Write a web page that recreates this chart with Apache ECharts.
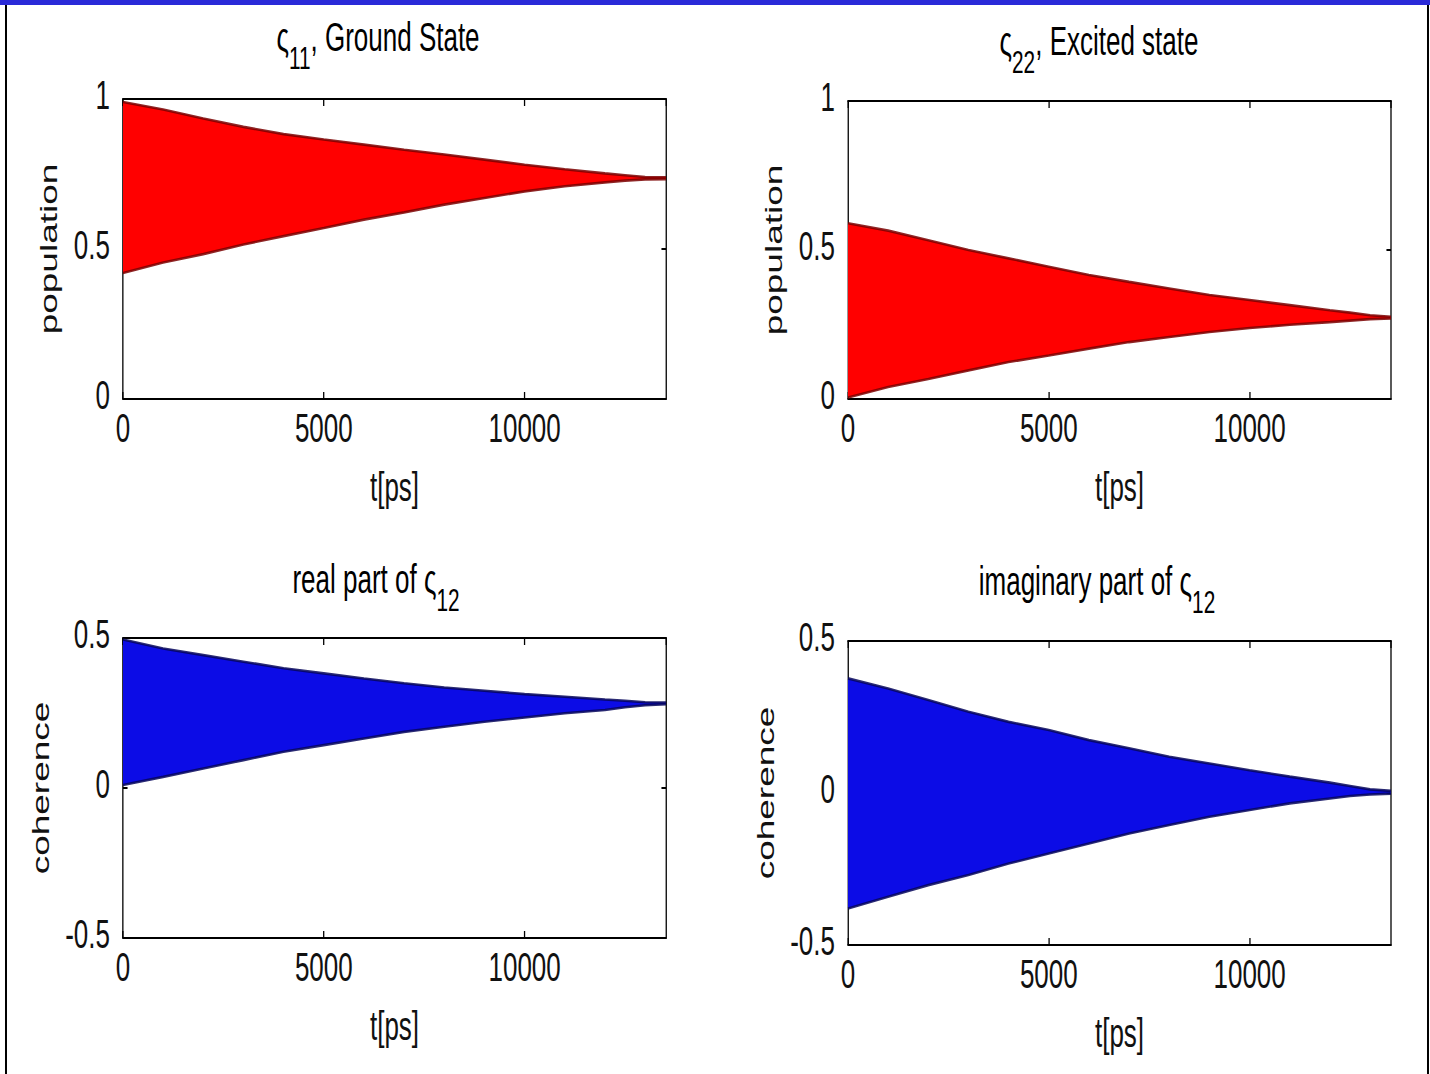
<!DOCTYPE html>
<html>
<head>
<meta charset="utf-8">
<title>Density matrix elements</title>
<script src="https://cdn.jsdelivr.net/npm/echarts@6/dist/echarts.min.js"></script>
<style>
  html, body { margin: 0; padding: 0; background: #ffffff; overflow: hidden; width: 1430px; height: 1074px; }
  /* the figure is laid out wide and squeezed horizontally, giving the tall narrow lettering */
  #chart { width: 2200px; height: 1074px; transform: scaleX(0.65); transform-origin: 0 0; }
</style>
</head>
<body>
<div id="chart"></div>
<script>
// Sample times (ps) at which the oscillation envelopes are listed
const timePs = [0, 1000, 2000, 3000, 4000, 5000, 6000, 7000, 8000, 9000, 10000, 11000, 12000, 12500, 13000, 13520];
const timeMax = 13520;

// rho_11 (ground state population): upper / lower envelope of the fast oscillation
const rho11Upper = [0.99, 0.965, 0.935, 0.907, 0.883, 0.865, 0.848, 0.831, 0.815, 0.798, 0.781, 0.766, 0.752, 0.746, 0.740, 0.739];
const rho11Lower = [0.42, 0.455, 0.483, 0.515, 0.543, 0.570, 0.598, 0.622, 0.648, 0.670, 0.692, 0.709, 0.722, 0.728, 0.732, 0.733];

// rho_22 (excited state population)
const rho22Upper = [0.59, 0.565, 0.533, 0.500, 0.472, 0.444, 0.416, 0.393, 0.371, 0.349, 0.332, 0.315, 0.298, 0.290, 0.281, 0.276];
const rho22Lower = [0.005, 0.040, 0.067, 0.096, 0.124, 0.146, 0.169, 0.191, 0.208, 0.225, 0.238, 0.249, 0.258, 0.263, 0.268, 0.270];

// Re(rho_12) coherence
const reRho12Upper = [0.495, 0.465, 0.443, 0.421, 0.399, 0.382, 0.365, 0.349, 0.335, 0.324, 0.313, 0.304, 0.295, 0.291, 0.286, 0.285];
const reRho12Lower = [0.010, 0.037, 0.065, 0.093, 0.121, 0.143, 0.165, 0.187, 0.204, 0.221, 0.235, 0.249, 0.260, 0.269, 0.276, 0.279];

// Im(rho_12) coherence
const imRho12Upper = [0.377, 0.344, 0.306, 0.267, 0.234, 0.207, 0.174, 0.147, 0.119, 0.097, 0.075, 0.054, 0.034, 0.023, 0.012, 0.007];
const imRho12Lower = [-0.380, -0.341, -0.303, -0.270, -0.232, -0.199, -0.166, -0.133, -0.105, -0.078, -0.056, -0.034, -0.018, -0.010, -0.005, -0.002];

// Axis ticks
const xTickStep = 5000;
const populationRange = [0, 1];
const coherenceRange = [-0.5, 0.5];
const yTickStep = 0.5;

// horizontal squeeze applied to the whole figure (see CSS)
const squeeze = 0.65;
const px = x => x / squeeze;

const font = "'Liberation Sans', Arial, Helvetica, sans-serif";
const ink = '#111111';

const panels = [
  { upper: rho11Upper,   lower: rho11Lower,   range: populationRange, fill: '#ff0000', edge: '#7a0000', yName: 'population', nameGap: 96,
    grid: { left: px(123), top: 99,  width: px(543), height: 300 } },
  { upper: rho22Upper,   lower: rho22Lower,   range: populationRange, fill: '#ff0000', edge: '#7a0000', yName: 'population', nameGap: 96,
    grid: { left: px(848), top: 101, width: px(543), height: 298 } },
  { upper: reRho12Upper, lower: reRho12Lower, range: coherenceRange,  fill: '#0c0ce6', edge: '#06065a', yName: 'coherence', nameGap: 108,
    grid: { left: px(123), top: 638, width: px(543), height: 300 } },
  { upper: imRho12Upper, lower: imRho12Lower, range: coherenceRange,  fill: '#0c0ce6', edge: '#06065a', yName: 'coherence', nameGap: 108,
    grid: { left: px(848), top: 641, width: px(543), height: 304 } }
];

const grids = [], xAxes = [], yAxes = [], series = [];

const lineStyle = { color: '#000', width: 2 };
const tickStyle = { inside: true, length: 7, lineStyle: { color: '#000', width: 2 } };
const plainNumber = v => String(v);

panels.forEach((p, g) => {
  grids.push(Object.assign({ containLabel: false }, p.grid));

  // bottom (labelled) and top (ticks only) x axes
  xAxes.push({
    gridIndex: g, type: 'value', min: 0, max: timeMax, interval: xTickStep,
    axisLine: { onZero: false, lineStyle }, axisTick: tickStyle, splitLine: { show: false },
    axisLabel: { showMaxLabel: false, formatter: plainNumber, fontFamily: font, fontSize: 40, color: ink, margin: 9 },
    name: 't[ps]', nameLocation: 'middle', nameGap: 68,
    nameTextStyle: { fontFamily: font, fontSize: 40, color: ink }
  });
  xAxes.push({
    gridIndex: g, type: 'value', position: 'top', min: 0, max: timeMax, interval: xTickStep,
    axisLine: { onZero: false, lineStyle }, axisTick: tickStyle, splitLine: { show: false },
    axisLabel: { show: false }
  });

  // left (labelled) and right (ticks only) y axes; labels sit slightly above their ticks
  yAxes.push({
    gridIndex: g, type: 'value', min: p.range[0], max: p.range[1], interval: yTickStep,
    axisLine: { onZero: false, lineStyle }, axisTick: tickStyle, splitLine: { show: false },
    axisLabel: { formatter: plainNumber, fontFamily: font, fontSize: 40, color: ink, margin: 20,
                 verticalAlign: 'bottom', lineHeight: 8 },
    name: p.yName, nameLocation: 'middle', nameGap: p.nameGap, nameRotate: 90,
    nameTextStyle: { fontFamily: font, fontSize: 37, color: ink }
  });
  yAxes.push({
    gridIndex: g, type: 'value', position: 'right', min: p.range[0], max: p.range[1], interval: yTickStep,
    axisLine: { onZero: false, lineStyle }, axisTick: tickStyle, splitLine: { show: false },
    axisLabel: { show: false }
  });

  const xi = g * 2, yi = g * 2;

  // filled band spanned by the fast oscillation
  series.push({
    type: 'custom', xAxisIndex: xi, yAxisIndex: yi, silent: true, clip: true, z: 2,
    data: [[timePs[0], p.lower[0]]],
    renderItem(params, api) {
      const pts = [];
      for (let i = 0; i < timePs.length; i++) pts.push(api.coord([timePs[i], p.upper[i]]));
      for (let i = timePs.length - 1; i >= 0; i--) pts.push(api.coord([timePs[i], p.lower[i]]));
      return { type: 'polygon', shape: { points: pts }, style: { fill: p.fill } };
    }
  });

  // darker rims along both envelopes
  [p.upper, p.lower].forEach(env => {
    series.push({
      type: 'line', xAxisIndex: xi, yAxisIndex: yi, silent: true, z: 3,
      showSymbol: false, symbol: 'none',
      data: timePs.map((t, i) => [t, env[i]]),
      lineStyle: { color: p.edge, width: 2.6, opacity: 0.85 }
    });
  });
});

// panel titles (with subscripts)
const titleRich = {
  m: { fontFamily: font, fontSize: 40, color: ink, lineHeight: 40, verticalAlign: 'top' },
  s: { fontFamily: font, fontSize: 32, color: ink, lineHeight: 82, verticalAlign: 'middle' }
};
function titleText(x, y, text) {
  return { type: 'text', x: px(x), y, silent: true, z: 10,
    style: { text, rich: titleRich, align: 'center', verticalAlign: 'top' } };
}

const option = {
  animation: false,
  backgroundColor: '#ffffff',
  grid: grids,
  xAxis: xAxes,
  yAxis: yAxes,
  series,
  graphic: [
    { type: 'rect', shape: { x: 0, y: 0, width: px(1430), height: 5 }, style: { fill: '#2a2ad8' }, silent: true },
    { type: 'rect', shape: { x: px(5), y: 5, width: px(2), height: 1069 }, style: { fill: '#000' }, silent: true },
    { type: 'rect', shape: { x: px(1427), y: 5, width: px(2), height: 1069 }, style: { fill: '#000' }, silent: true },
    titleText(378, 17, '{m|ς}{s|11}{m|, Ground State}'),
    titleText(1099, 21, '{m|ς}{s|22}{m|, Excited state}'),
    titleText(376, 559, '{m|real part of ς}{s|12}'),
    titleText(1097, 561, '{m|imaginary part of ς}{s|12}')
  ]
};

const chart = echarts.init(document.getElementById('chart'), null, { renderer: 'svg' });
chart.setOption(option);
</script>
</body>
</html>
